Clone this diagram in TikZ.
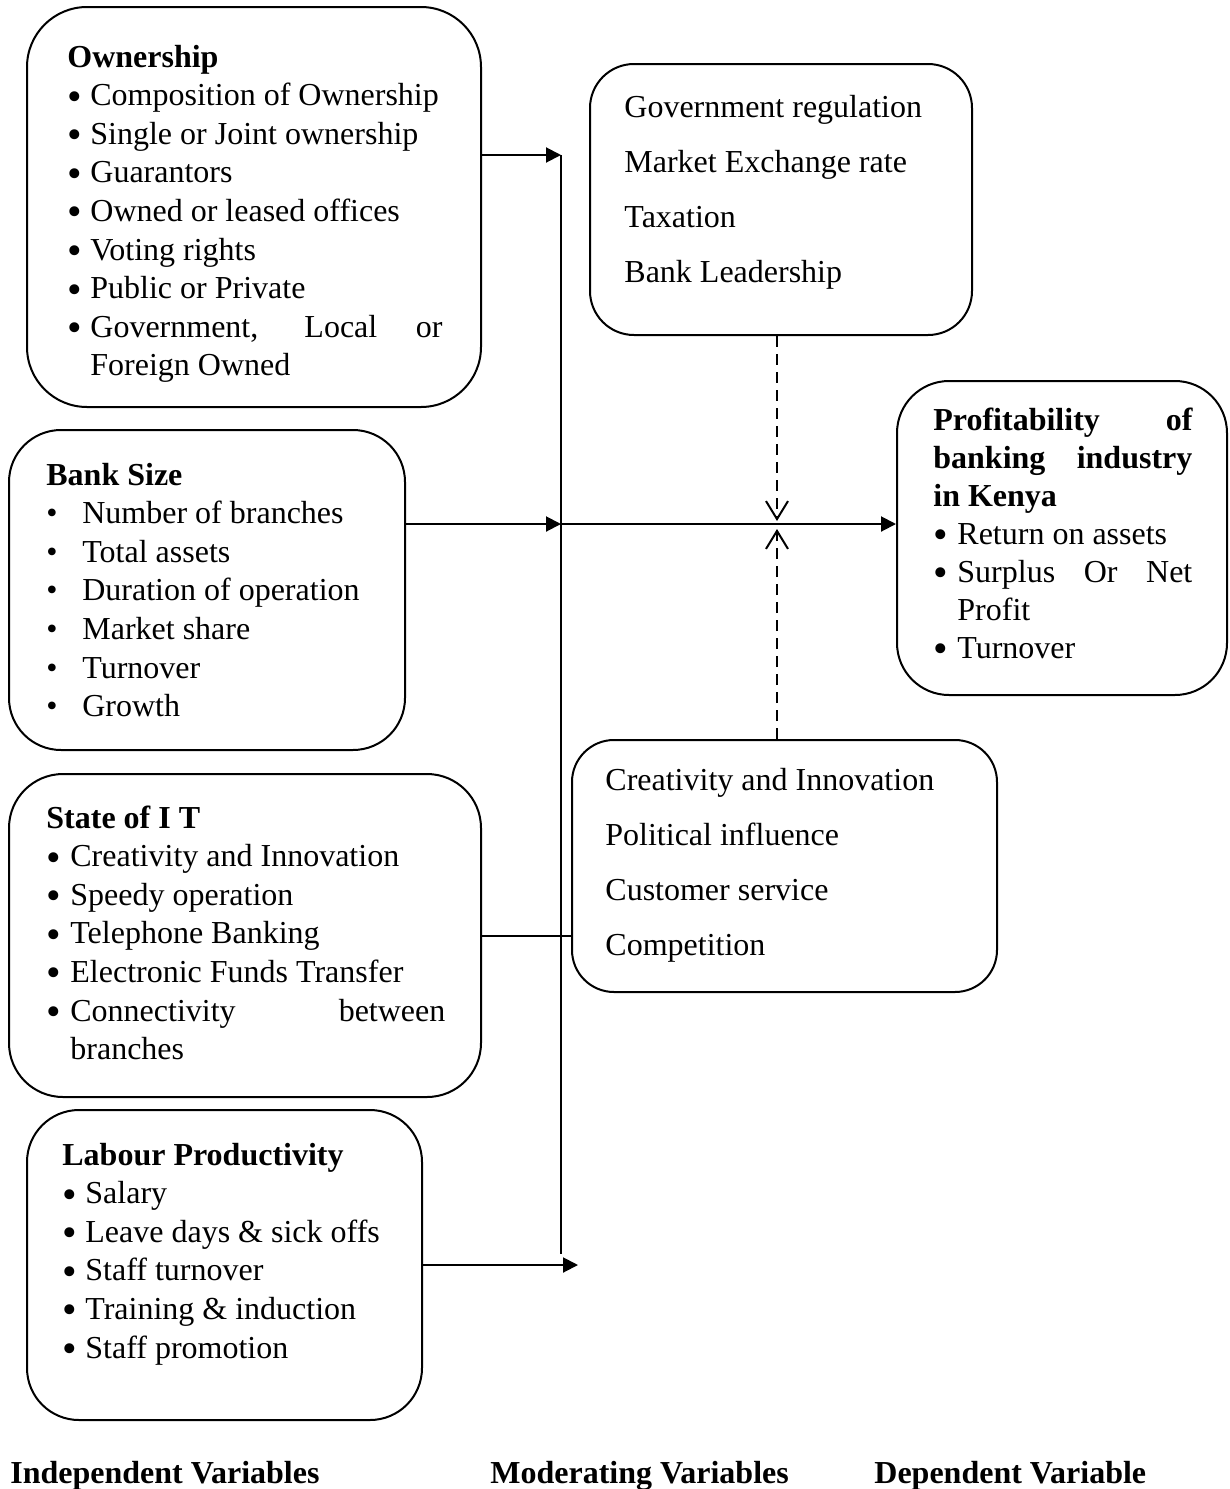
\documentclass[tikz,border=0pt]{standalone}
\usepackage{fontspec}
\usepackage{graphicx}
\setmainfont{Liberation Serif}
\usetikzlibrary{arrows.meta}

% plain word spaces (align=left fixes them otherwise)
\newcommand{\ws}{\spaceskip=0pt\xspaceskip=0pt}
\newcommand{\bigdot}{\raisebox{-2.2pt}{\scalebox{1.3}{\textbullet}}}
\newcommand{\bul}[2]{\makebox[#1][l]{\bigdot}#2}
\newcommand{\sbul}[2]{\makebox[#1][l]{\textbullet}#2}

\begin{document}
\begin{tikzpicture}[x=0.5pt,y=-0.5pt,
  vbox/.style={draw=black,line width=1pt,rectangle,inner sep=0pt},
  txt/.style={anchor=base west,inner sep=0pt,text width=250pt,align=left,
    font=\fontsize{16}{19.3}\selectfont},
  mtxt/.style={txt,font=\fontsize{16}{27.5}\selectfont},
  head/.style={anchor=base west,inner sep=0pt,font=\fontsize{16}{19.3}\selectfont\bfseries},
  link/.style={line width=1pt},
  arr/.style={link,-{Triangle[length=7.5pt,width=7.5pt]}},
  modarr/.style={link,dash pattern=on 5.5pt off 3.5pt,-{Straight Barb[length=9pt,width=11pt]}}]
\useasboundingbox (0,0) rectangle (1230,1489);

% boxes
\node[vbox,minimum width=227pt,minimum height=200pt,rounded corners=30pt] (own) at (254,207) {};
\node[vbox,minimum width=191pt,minimum height=135.5pt,rounded corners=22pt] (gov) at (781,199.5) {};
\node[vbox,minimum width=165pt,minimum height=157pt,rounded corners=26pt] (prof) at (1062,538) {};
\node[vbox,minimum width=198pt,minimum height=160pt,rounded corners=26pt] (size) at (207,590) {};
\node[vbox,minimum width=212.5pt,minimum height=126pt,rounded corners=21pt] (mod) at (784.5,866) {};
\node[vbox,minimum width=236pt,minimum height=161.5pt,rounded corners=27pt] (it) at (245,935.5) {};
\node[vbox,minimum width=197.5pt,minimum height=155pt,rounded corners=26pt] (lab) at (224.5,1265) {};

% texts
\node[txt] (owntxt) at (67,67) {\ws\textbf{Ownership}\\
  \bul{11.5pt}{Composition of Ownership}\\
  \bul{11.5pt}{Single or Joint ownership}\\
  \bul{11.5pt}{Guarantors}\\
  \bul{11.5pt}{Owned or leased offices}\\
  \bul{11.5pt}{Voting rights}\\
  \bul{11.5pt}{Public or Private}\\
  \bul{11.5pt}{\makebox[176pt][s]{Government, Local or}}\\
  \hspace*{11.5pt}Foreign Owned};
\node[mtxt] (govtxt) at (624,117) {\ws Government regulation\\
  Market Exchange rate\\
  Taxation\\
  Bank Leadership};
\node[txt,font=\fontsize{16}{19}\selectfont] (proftxt) at (933,430) {\ws\textbf{\makebox[129.5pt][s]{Profitability of}}\\
  \textbf{\makebox[129.5pt][s]{banking industry}}\\
  \textbf{in Kenya}\\
  \bul{12pt}{Return on assets}\\
  \bul{12pt}{\makebox[117.5pt][s]{Surplus Or Net}}\\
  \hspace*{12pt}Profit\\
  \bul{12pt}{Turnover}};
\node[txt] (sizetxt) at (46,485) {\ws\textbf{Bank Size}\\
  \sbul{18pt}{Number of branches}\\
  \sbul{18pt}{Total assets}\\
  \sbul{18pt}{Duration of operation}\\
  \sbul{18pt}{Market share}\\
  \sbul{18pt}{Turnover}\\
  \sbul{18pt}{Growth}};
\node[mtxt] (modtxt) at (605,790) {\ws Creativity and Innovation\\
  Political influence\\
  Customer service\\
  Competition};
\node[txt] (ittxt) at (46,828) {\ws\textbf{State of I T}\\
  \bul{12pt}{Creativity and Innovation}\\
  \bul{12pt}{Speedy operation}\\
  \bul{12pt}{Telephone Banking}\\
  \bul{12pt}{Electronic Funds Transfer}\\
  \bul{12pt}{\makebox[187.5pt][s]{Connectivity between}}\\
  \hspace*{12pt}branches};
\node[txt] (labtxt) at (62,1165) {\ws\textbf{Labour Productivity}\\
  \bul{11.5pt}{Salary}\\
  \bul{11.5pt}{Leave days \& sick offs}\\
  \bul{11.5pt}{Staff turnover}\\
  \bul{11.5pt}{Training \& induction}\\
  \bul{11.5pt}{Staff promotion}};

% column titles
\node[head] (indep) at (10,1483) {Independent Variables};
\node[head] (moder) at (490,1483) {Moderating Variables};
\node[head] (depen) at (874,1483) {Dependent Variable};

% connectors
\coordinate (jt) at (561,155);
\coordinate (jm) at (561,524);
\coordinate (jb) at (561,1254);
\coordinate (lt) at (578,1265);
\coordinate (mt) at (777,521);
\coordinate (mb) at (777,529);

\draw[link] (jt) -- (jb);
\draw[arr] (own.east |- jt) -- (jt);
\draw[arr] (size.east |- jm) -- (jm);
\draw[arr] (jm) -- (prof.west |- jm);
\draw[link] (it.east) -- (it.east -| mod.west);
\draw[arr] (lab.east) -- (lt);
\draw[modarr] (mt |- gov.south) -- (mt);
\draw[modarr] (mb |- mod.north) -- (mb);
\end{tikzpicture}
\end{document}
